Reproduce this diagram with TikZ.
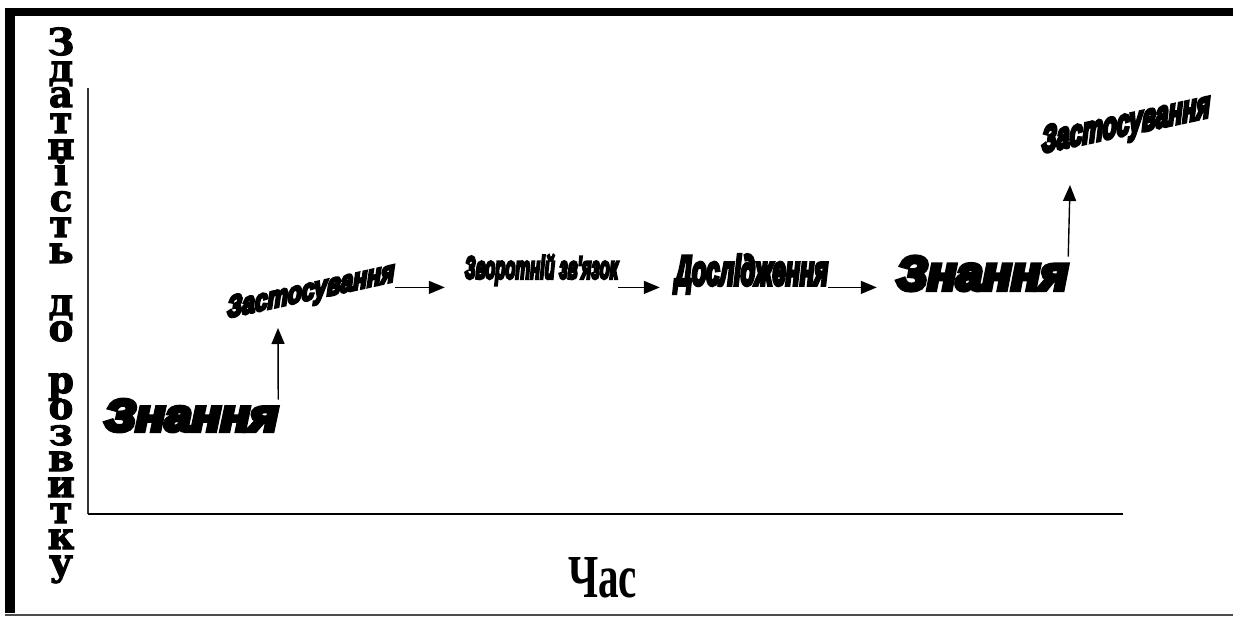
\documentclass[tikz,border=0pt]{standalone}
\usepackage{fontspec}
\usepackage{graphicx}
\setmainfont{Liberation Serif}
\newfontfamily\artfont{Liberation Sans}[BoldItalicFeatures={FakeBold=10}]
\newfontfamily\stackfont{DejaVu Serif}[BoldFeatures={FakeBold=3}]
\usetikzlibrary{arrows.meta}
\tikzset{
    arrow/.style = {line width=1.4pt, -{Triangle[length=16pt,width=13pt]}},
    wordart/.style = {inner sep=0pt, font=\artfont\bfseries\itshape},
    letter/.style = {inner sep=0pt, anchor=base, text height=20pt, text depth=0pt,
        font=\stackfont\bfseries\fontsize{37pt}{37pt}\selectfont},
    axis/.style = {line width=1.2pt, black!80}
}

\begin{document}
\begin{tikzpicture}[x=1pt,y=-1pt]
    \useasboundingbox (0,0) rectangle (1233,617);

    % Frame
    \fill (5,8) rectangle (15,613);
    \fill (5,8) rectangle (1233,16);
    \draw[line width=2pt, black!70] (5,615) -- (1233,615);

    % Axes
    \coordinate (o) at (88,514);
    \coordinate (ytop) at (88,88);
    \coordinate (xend) at (1123,514);
    \draw[axis] (o) -- (ytop);
    \draw[axis, line width=2pt, black] (o) -- (xend);

    % Vertical label, one letter per line
    \foreach \ch/\ln [count=\i] in {З/0, д/1, а/2, т/3, н/4, і/5, с/6, т/7, ь/8,
        д/10, о/11, р/13, о/14, з/15, в/16, и/17, т/18, к/19, у/20}
        \node[letter] (ch\i) at (61,55+26*\ln) {\ch};
    \node[inner sep=0pt] (time) at (602.5,578) {\resizebox{69pt}{40pt}{\bfseries Час}};

    % Stages
    \node[wordart] (zn1) at (191.5,415.5) {\resizebox{173pt}{31pt}{Знання}};
    \node[wordart, yslant=0.22, transform shape] (zas1) at (311,292) {\resizebox{167pt}{21pt}{Застосування}};
    \node[wordart] (zvz) at (541.5,270) {\resizebox*{153pt}{30pt}{Зворотній зв'язок}};
    \node[wordart] (dos) at (751.5,274) {\resizebox*{153pt}{38pt}{Дослідження}};
    \node[wordart] (zn2) at (982.5,273.5) {\resizebox{171pt}{33pt}{Знання}};
    \node[wordart, yslant=0.215, transform shape] (zas2) at (1126,125.5) {\resizebox{168pt}{26pt}{Застосування}};

    % Transitions
    \coordinate (t1) at (278,328);
    \coordinate (t2) at (1070,185);
    \draw[arrow] (zn1.north east) -- (t1);
    \draw[arrow, shorten >=20pt] (zas1.south east) -- (zas1.south east -| zvz.west);
    \draw[arrow, shorten >=15pt] (zvz.east |- zas1.south east) -- (dos.west |- zas1.south east);
    \draw[arrow, shorten >=20pt] (dos.east |- zas1.south east) -- (zn2.west |- zas1.south east);
    \draw[arrow] (zn2.north east) -- (t2);
\end{tikzpicture}
\end{document}
